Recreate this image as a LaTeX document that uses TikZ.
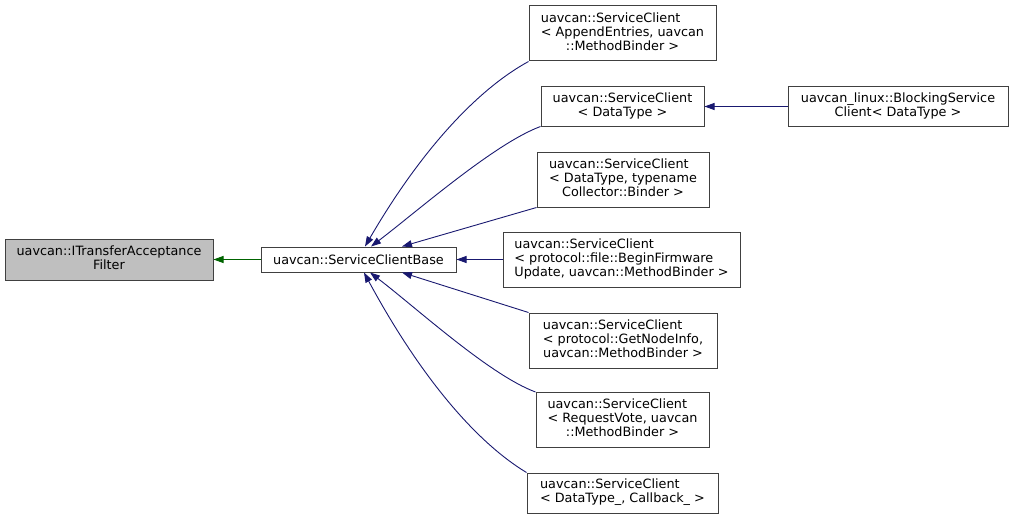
\documentclass[tikz,border=0pt]{standalone}
\usepackage{fontspec}
\setmainfont{DejaVu Sans}
\usetikzlibrary{arrows.meta}
\definecolor{dxedge}{RGB}{25,25,112}
\definecolor{dxroot}{RGB}{0,100,0}
\definecolor{dxgrey}{RGB}{191,191,191}
\definecolor{dxframe}{RGB}{64,64,64}
\newcommand{\lbl}[1]{\begin{tabular}{@{}l@{}}#1\end{tabular}}
\newcommand{\lastln}[1]{\multicolumn{1}{@{}c@{}}{#1}}

\begin{document}
\begin{tikzpicture}[
    x=1pt, y=-1pt,
    >={Triangle[length=10pt,width=7pt]},
    cls/.style={draw=dxframe, fill=white, line width=1pt, inner sep=0pt,
                font=\fontsize{12.8}{14}\selectfont},
    rootcls/.style={cls, fill=dxgrey},
    inh/.style={<-, dxedge, line width=0.9pt},
    inhroot/.style={<-, dxroot, line width=0.9pt},
  ]
  \useasboundingbox (0,0) rectangle (1015,519);

  %% ================= the classes =================
  \node[rootcls, minimum width=208pt, minimum height=41pt] (filt) at (109,259.5)
    {\lbl{uavcan::ITransferAcceptance\\\lastln{Filter}}};
  \node[cls, minimum width=195pt, minimum height=25pt] (base) at (358.5,259.5)
    {uavcan::ServiceClientBase};

  \node[cls, minimum width=187pt, minimum height=55pt] (ae) at (622.5,33.5)
    {\lbl{uavcan::ServiceClient\\< AppendEntries, uavcan\\\lastln{::MethodBinder >}}};
  \node[cls, minimum width=163pt, minimum height=39pt] (dt) at (622.5,106.5)
    {\lbl{uavcan::ServiceClient\\\lastln{< DataType >}}};
  \node[cls, minimum width=172pt, minimum height=55pt] (coll) at (623,179.5)
    {\lbl{uavcan::ServiceClient\\< DataType, typename\\\lastln{Collector::Binder >}}};
  \node[cls, minimum width=237pt, minimum height=55pt] (bfw) at (621.5,259.5)
    {\lbl{uavcan::ServiceClient\\< protocol::file::BeginFirmware\\\lastln{Update, uavcan::MethodBinder >}}};
  \node[cls, minimum width=188pt, minimum height=55pt] (gni) at (623,340.5)
    {\lbl{uavcan::ServiceClient\\< protocol::GetNodeInfo,\\\lastln{uavcan::MethodBinder >}}};
  \node[cls, minimum width=173pt, minimum height=55pt] (rv) at (622.5,420)
    {\lbl{uavcan::ServiceClient\\< RequestVote, uavcan\\\lastln{::MethodBinder >}}};
  \node[cls, minimum width=191pt, minimum height=40pt] (cb) at (622.5,493)
    {\lbl{uavcan::ServiceClient\\\lastln{< DataType\_, Callback\_ >}}};

  \node[cls, minimum width=220pt, minimum height=39pt] (blk) at (898,106.5)
    {\lbl{uavcan\_linux::BlockingService\\\lastln{Client< DataType >}}};

  %% ================= inheritance =================
  \draw[inhroot] (filt.east) -- (base.west);

  % upper fan
  \draw[inh] ([xshift=6.5pt]base.north) .. controls +(54,-93) and +(-53,29) .. (ae.south west);
  \draw[inh] ([xshift=12.5pt]base.north) .. controls +(46,-35) and +(-46,17) .. (dt.south west);
  \draw[inh] ([xshift=43.5pt]base.north) -- (coll.south west);
  \draw[inh] (base.east) -- (bfw.west);
  % lower fan
  \draw[inh] ([xshift=43.5pt]base.south) -- (gni.north west);
  \draw[inh] ([xshift=11.5pt]base.south) .. controls +(46,35) and +(-46,-17) .. (rv.north west);
  \draw[inh] ([xshift=5.5pt]base.south) .. controls +(54,100) and +(-53,-32) .. (cb.north west);

  \draw[inh] (dt.east) -- (blk.west);

\end{tikzpicture}
\end{document}
